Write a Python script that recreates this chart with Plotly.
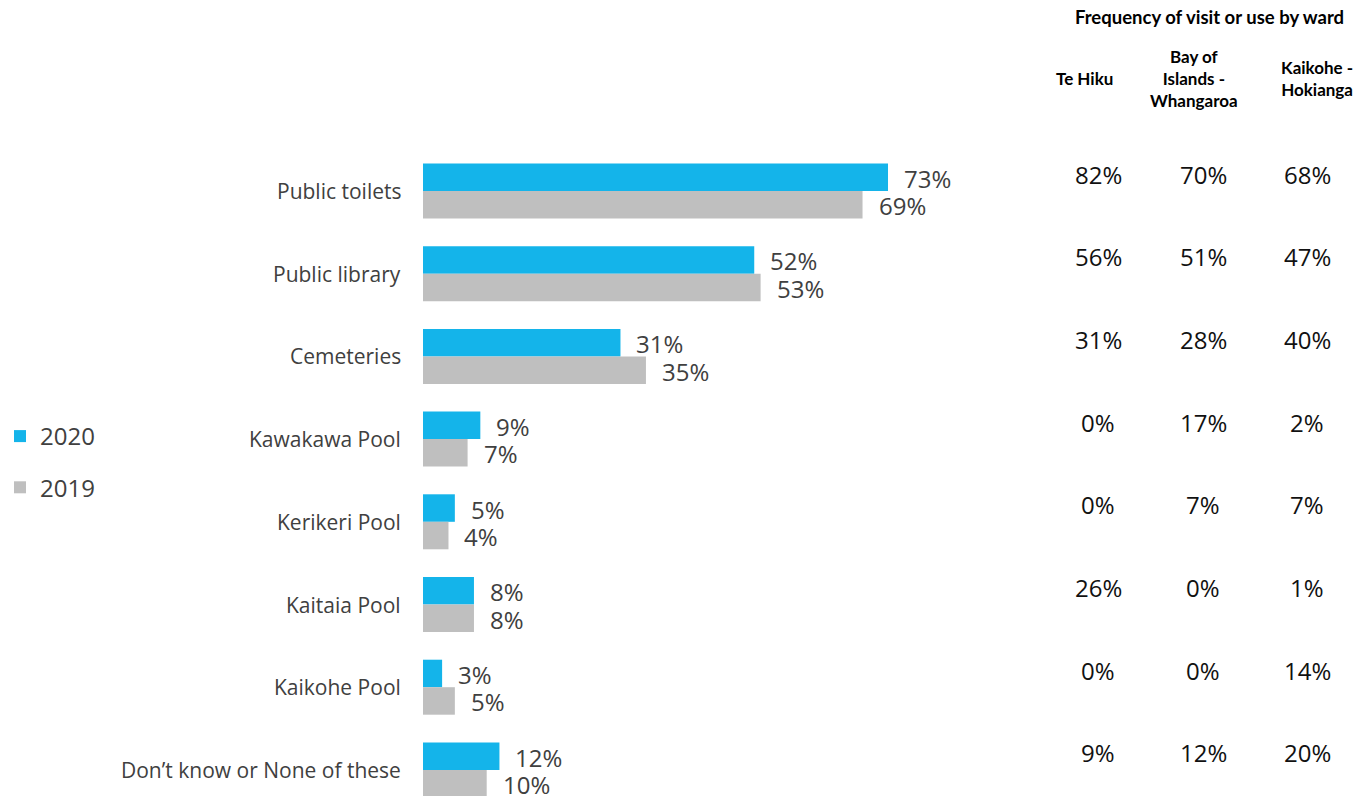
import plotly.graph_objects as go

# Facilities visited or used, whole district, 2020 vs 2019
categories = [
    "Public toilets",
    "Public library",
    "Cemeteries",
    "Kawakawa Pool",
    "Kerikeri Pool",
    "Kaitaia Pool",
    "Kaikohe Pool",
    "Don\u2019t know or None of these",
]
values_2020 = [73, 52, 31, 9, 5, 8, 3, 12]
values_2019 = [69, 53, 35, 7, 4, 8, 5, 10]

# 2020 results by ward
wards = ["Te Hiku", "Bay of<br>Islands -<br>Whangaroa", "Kaikohe -<br>Hokianga"]
ward_te_hiku = [82, 56, 31, 0, 0, 26, 0, 9]
ward_bay_of_islands = [70, 51, 28, 17, 7, 0, 0, 12]
ward_kaikohe = [68, 47, 40, 2, 7, 1, 14, 20]

COLOR_2020 = "#14B4EA"
COLOR_2019 = "#BFBFBF"
TEXT = "#404040"
TABLE_TEXT = "#111111"
BODY_FONT = "Open Sans"
HEAD_FONT = "Lato"

W, H = 1355, 796
PX_PER_PCT = 6.37      # horizontal scale
ZERO_PX = 423          # where 0% sits
ROW_PX = 82.7          # height of one category row
FIRST_ROW_PX = 191     # centre of first row
BARGAP = 0.335

idx = list(range(len(categories)))

fig = go.Figure()
fig.add_trace(go.Bar(
    name="2020", y=idx, x=values_2020, orientation="h",
    marker=dict(color=COLOR_2020, line=dict(width=0)),
    legendgroup="a",
))
fig.add_trace(go.Bar(
    name="2019", y=idx, x=values_2019, orientation="h",
    marker=dict(color=COLOR_2019, line=dict(width=0)),
    legendgroup="b",
))

annotations = []
half = (1 - BARGAP) / 4  # offset of each bar centre from the row centre

for i, cat in enumerate(categories):
    annotations.append(dict(
        x=0, y=i, xref="x", yref="y", text=cat, showarrow=False,
        xanchor="right", yanchor="middle", xshift=-20,
        font=dict(family=BODY_FONT, size=21, color=TEXT),
    ))
    for v, dy in ((values_2020[i], -half), (values_2019[i], half)):
        annotations.append(dict(
            x=v, y=i + dy, xref="x", yref="y", text=f"{v}%", showarrow=False,
            xanchor="left", yanchor="middle", xshift=14, yshift=-1,
            font=dict(family=BODY_FONT, size=24, color=TEXT),
        ))

# ward table
col_x = [1098 / W, 1203 / W, 1307 / W]
head_x = [1084 / W, 1194 / W, 1317 / W]
for col, series in enumerate([ward_te_hiku, ward_bay_of_islands, ward_kaikohe]):
    for i, v in enumerate(series):
        annotations.append(dict(
            x=col_x[col], y=i, xref="paper", yref="y", text=f"{v}%",
            showarrow=False, xanchor="center", yanchor="middle", yshift=17,
            font=dict(family=BODY_FONT, size=24, color=TABLE_TEXT),
        ))

for col, name in enumerate(wards):
    annotations.append(dict(
        x=head_x[col], y=1 - 78 / H, xref="paper", yref="paper",
        text=f"<b>{name}</b>", showarrow=False, xanchor="center", yanchor="middle",
        align="center", font=dict(family=HEAD_FONT, size=17, color="#000000"),
    ))

annotations.append(dict(
    x=1209 / W, y=1 - 17 / H, xref="paper", yref="paper",
    text="<b>Frequency of visit or use by ward</b>", showarrow=False,
    xanchor="center", yanchor="middle",
    font=dict(family=HEAD_FONT, size=18.5, color="#000000"),
))

y_top = -FIRST_ROW_PX / ROW_PX
y_bottom = y_top + H / ROW_PX

fig.update_layout(
    width=W, height=H,
    margin=dict(l=0, r=0, t=0, b=0, autoexpand=False),
    paper_bgcolor="white", plot_bgcolor="white",
    barmode="group", bargap=BARGAP, bargroupgap=0,
    xaxis=dict(range=[-ZERO_PX / PX_PER_PCT, (W - ZERO_PX) / PX_PER_PCT],
               visible=False, fixedrange=True),
    yaxis=dict(range=[y_bottom, y_top], visible=False, fixedrange=True),
    showlegend=True,
    legend=dict(
        x=0, y=1 - 414 / H, xanchor="left", yanchor="top",
        font=dict(family=BODY_FONT, size=24, color=TEXT),
        traceorder="grouped", tracegroupgap=17,
        bgcolor="rgba(0,0,0,0)",
    ),
    annotations=annotations,
)

fig.write_html("out.html")
